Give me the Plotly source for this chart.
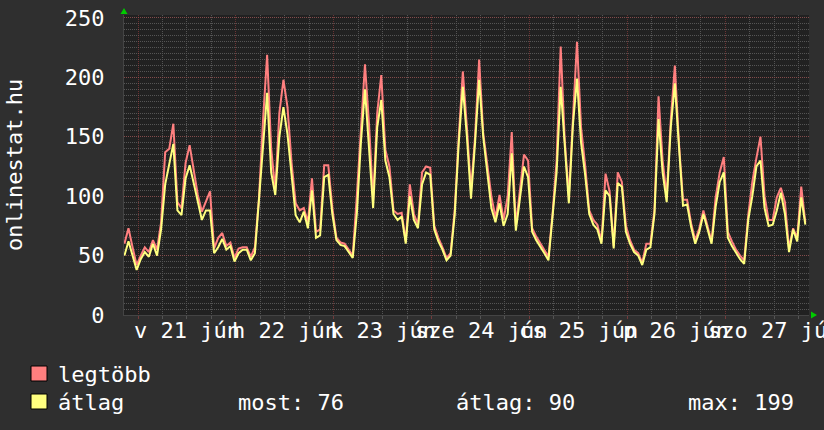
import plotly.graph_objects as go
import pandas as pd

# ---- data (hourly) ----
start_time = "2015-06-20 20:40"
avg_values = [
    50, 62, 50, 38, 47, 53, 49, 60, 50, 72,
    110, 128, 144, 88, 84, 115, 126, 111, 95, 80,
    88, 88, 52, 57, 64, 55, 58, 45, 52, 55,
    55, 46, 52, 97, 136, 187, 120, 101, 150, 175,
    152, 116, 84, 78, 87, 73, 105, 65, 67, 116,
    118, 85, 63, 59, 58, 53, 48, 85, 145, 190,
    140, 90, 158, 181, 130, 116, 85, 80, 83, 60,
    100, 80, 73, 110, 120, 118, 72, 62, 55, 46,
    50, 84, 145, 192, 150, 98, 145, 198, 150, 119,
    90, 78, 94, 75, 85, 136, 71, 98, 125, 116,
    70, 63, 58, 52, 46, 82, 120, 192, 140, 94,
    160, 199, 145, 118, 85, 76, 72, 60, 105, 100,
    56, 111, 108, 70, 60, 53, 50, 42, 55, 57,
    85, 165, 120, 95, 158, 195, 142, 92, 93, 74,
    60, 70, 85, 72, 60, 91, 112, 120, 65, 58,
    52, 47, 43, 80, 100, 125, 130, 90, 75, 76,
    88, 103, 85, 53, 72, 62, 99, 76,
]
max_values = [
    60, 73, 57, 42, 50, 57, 53, 63, 55, 78,
    137, 140, 161, 95, 90, 128, 143, 120, 101, 87,
    95, 104, 56, 65, 69, 58, 61, 48, 56, 57,
    57, 49, 57, 98, 164, 219, 140, 105, 170, 198,
    175, 128, 94, 88, 90, 78, 115, 70, 72, 126,
    126, 90, 65, 61, 60, 55, 50, 100, 158, 211,
    160, 97, 170, 202, 139, 125, 88, 85, 86, 62,
    110, 85, 76, 120, 125, 124, 75, 65, 57, 48,
    52, 88, 150, 205, 158, 105, 150, 215, 153, 125,
    100, 82, 101, 80, 100, 154, 75, 105, 135, 130,
    73, 66, 60, 54, 49, 85, 130, 226, 147, 100,
    164, 230, 158, 126, 88, 80, 76, 62, 119, 104,
    58, 120, 112, 75, 63, 55, 52, 44, 60, 60,
    88, 184, 130, 100, 164, 210, 145, 97, 97, 77,
    63, 73, 88, 75, 62, 99, 120, 133, 70, 62,
    55, 50, 46, 84, 112, 132, 150, 100, 80, 80,
    99, 107, 95, 56, 73, 65, 108, 78,
]
day_labels = ["v 21 jún", "h 22 jún", "k 23 jún", "sze 24 jún",
              "cs 25 jún", "p 26 jún", "szo 27 jún"]
label_noons = pd.date_range("2015-06-21 12:00", periods=len(day_labels), freq="D")
y_tick_values = [0, 50, 100, 150, 200, 250]
series_names = ["legtöbb", "átlag"]
stat_texts = ["most: 76", "átlag: 90", "max: 199"]
axis_title = "onlinestat.hu"

times = pd.date_range(start_time, periods=len(avg_values), freq="h")

# ---- style ----
W, H = 824, 430
L, R, T, B = 124, 15, 15, 115
PW, PH = W - L - R, H - T - B
FONT = "DejaVu Sans Mono"
BG = "#2f2f2f"
CANVAS = "#212121"
RED = "#ff7f7f"
YEL = "#ffff7f"
MAJ = "rgba(170,70,70,0.55)"
MIN = "#545454"


def px(x):
    return (x - L) / PW


def py(y):
    return (T + PH - y) / PH


fig = go.Figure()
fig.add_trace(go.Scatter(x=times, y=max_values, mode="lines", name=series_names[0],
                         line=dict(color=RED, width=2)))
fig.add_trace(go.Scatter(x=times, y=avg_values, mode="lines", name=series_names[1],
                         line=dict(color=YEL, width=2)))

fig.update_layout(
    width=W, height=H,
    margin=dict(l=L, r=R, t=T, b=B, pad=0, autoexpand=False),
    paper_bgcolor=BG, plot_bgcolor=CANVAS,
    showlegend=False,
    font=dict(family=FONT, size=22, color="#ffffff"),
)
fig.update_xaxes(
    range=["2015-06-20 20:34", "2015-06-27 20:34"],
    type="date", automargin=False,
    tick0="2015-06-21", dtick=86400000,
    showticklabels=False,
    showgrid=True, gridcolor=MAJ, griddash="1px,1px", gridwidth=1,
    ticks="outside", ticklen=3, tickcolor=MAJ,
    minor=dict(dtick=21600000, showgrid=True, gridcolor=MIN, griddash="1px,1px",
               ticks="outside", ticklen=3, tickcolor=MIN),
    showline=True, linecolor="#444444", linewidth=1,
    zeroline=False,
)
fig.update_yaxes(
    range=[0, 252.5], automargin=False,
    tickvals=y_tick_values,
    ticks="", ticklabelstandoff=14,
    tickfont=dict(family=FONT, size=22, color="#ffffff"),
    showgrid=True, gridcolor=MAJ, griddash="1px,1px", gridwidth=1,
    minor=dict(dtick=5, showgrid=True, gridcolor=MIN, griddash="1px,1px"),
    showline=True, linecolor="#444444", linewidth=1,
    zeroline=False,
)

ann = []
for t, lab in zip(label_noons, day_labels):
    ann.append(dict(x=t, y=py(331), xref="x", yref="paper", text=lab, showarrow=False,
                    xanchor="center", yanchor="middle",
                    font=dict(family=FONT, size=22, color="#ffffff")))
ann.append(dict(x=px(14), y=py(165), xref="paper", yref="paper", text=axis_title,
                textangle=-90, showarrow=False, xanchor="center", yanchor="middle",
                font=dict(family=FONT, size=22, color="#ffffff")))
ann.append(dict(x=px(56), y=py(374), xref="paper", yref="paper", text=series_names[0],
                showarrow=False, xanchor="left", yanchor="middle",
                font=dict(family=FONT, size=22, color="#ffffff")))
ann.append(dict(x=px(56), y=py(402), xref="paper", yref="paper", text=series_names[1],
                showarrow=False, xanchor="left", yanchor="middle",
                font=dict(family=FONT, size=22, color="#ffffff")))
for xpos, s in zip([236, 454, 686], stat_texts):
    ann.append(dict(x=px(xpos), y=py(402), xref="paper", yref="paper", text=s,
                    showarrow=False, xanchor="left", yanchor="middle",
                    font=dict(family=FONT, size=22, color="#ffffff")))
fig.update_layout(annotations=ann)

shapes = []
for ytop, col in [(366, RED), (394, YEL)]:
    shapes.append(dict(type="rect", xref="paper", yref="paper",
                       x0=px(31), x1=px(47), y0=py(ytop + 15), y1=py(ytop),
                       fillcolor=col, line=dict(color="#000000", width=1)))
# axis arrows
shapes.append(dict(type="path", xref="paper", yref="paper",
                   path=f"M {px(120.5)},{py(14)} L {px(127.5)},{py(14)} L {px(124)},{py(8)} Z",
                   fillcolor="#00cc00", line=dict(width=0)))
shapes.append(dict(type="path", xref="paper", yref="paper",
                   path=f"M {px(811)},{py(311.5)} L {px(811)},{py(318.5)} L {px(817)},{py(315)} Z",
                   fillcolor="#00cc00", line=dict(width=0)))
fig.update_layout(shapes=shapes)

fig.write_html("out.html")
